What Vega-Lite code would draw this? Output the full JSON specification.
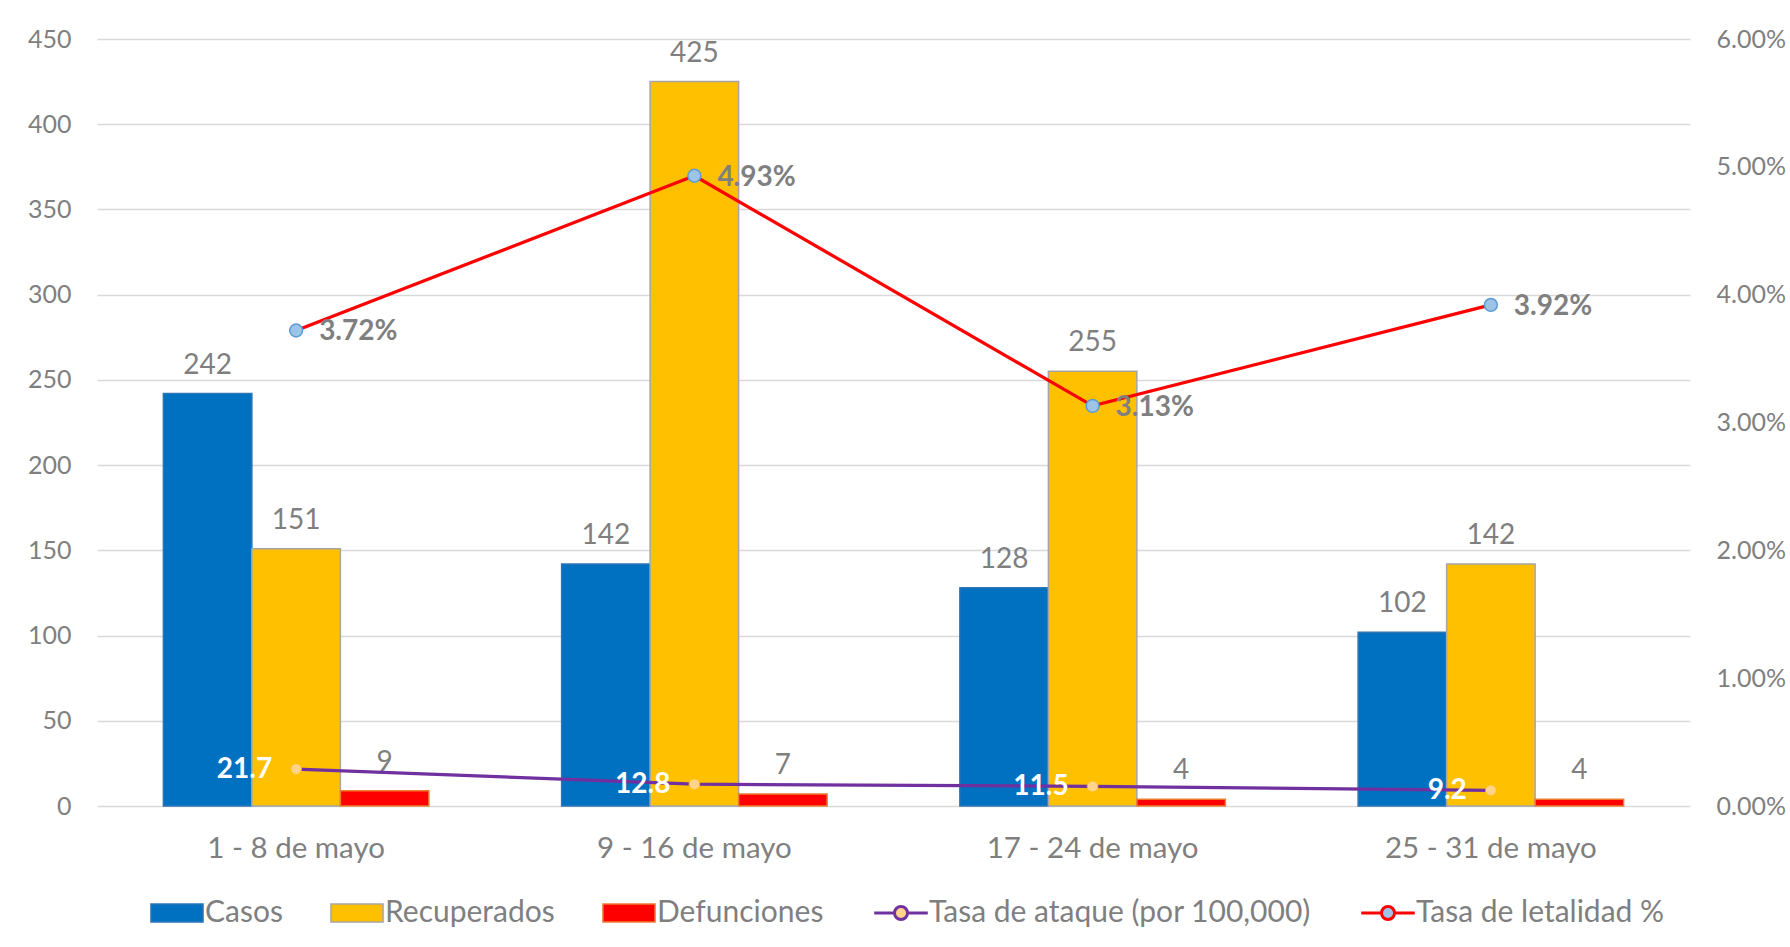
{
  "$schema": "https://vega.github.io/schema/vega-lite/v6.json",
  "width": 1593,
  "height": 767,
  "autosize": {"type": "none"},
  "padding": {"left": 97, "top": 39, "right": 100, "bottom": 141},
  "background": "white",
  "config": {
    "font": "Lato",
    "view": {"stroke": null},
    "axis": {"labelFont": "Lato", "labelColor": "#7F7F7F", "domain": false, "ticks": false, "tickSize": 0, "title": null}
  },
  "datasets": {
    "barras": [
      {"periodo": "1 - 8 de mayo", "serie": "Casos", "valor": 242},
      {"periodo": "1 - 8 de mayo", "serie": "Recuperados", "valor": 151},
      {"periodo": "1 - 8 de mayo", "serie": "Defunciones", "valor": 9},
      {"periodo": "9 - 16 de mayo", "serie": "Casos", "valor": 142},
      {"periodo": "9 - 16 de mayo", "serie": "Recuperados", "valor": 425},
      {"periodo": "9 - 16 de mayo", "serie": "Defunciones", "valor": 7},
      {"periodo": "17 - 24 de mayo", "serie": "Casos", "valor": 128},
      {"periodo": "17 - 24 de mayo", "serie": "Recuperados", "valor": 255},
      {"periodo": "17 - 24 de mayo", "serie": "Defunciones", "valor": 4},
      {"periodo": "25 - 31 de mayo", "serie": "Casos", "valor": 102},
      {"periodo": "25 - 31 de mayo", "serie": "Recuperados", "valor": 142},
      {"periodo": "25 - 31 de mayo", "serie": "Defunciones", "valor": 4}
    ],
    "tasas": [
      {"periodo": "1 - 8 de mayo", "ataque": 21.7, "letalidad": 0.0372},
      {"periodo": "9 - 16 de mayo", "ataque": 12.8, "letalidad": 0.0493},
      {"periodo": "17 - 24 de mayo", "ataque": 11.5, "letalidad": 0.0313},
      {"periodo": "25 - 31 de mayo", "ataque": 9.2, "letalidad": 0.0392}
    ]
  },
  "encoding": {
    "x": {
      "field": "periodo",
      "type": "nominal",
      "sort": ["1 - 8 de mayo", "9 - 16 de mayo", "17 - 24 de mayo", "25 - 31 de mayo"],
      "scale": {"paddingInner": 0.3333, "paddingOuter": 0.16667},
      "axis": {"labelAngle": 0, "labelFontSize": 29.5, "labelLimit": 0, "labelPadding": 28, "labelBaseline": "top", "grid": false}
    }
  },
  "layer": [
    {
      "layer": [
        {
          "data": {"name": "barras"},
          "mark": {"type": "bar", "strokeWidth": 1.5},
          "encoding": {
            "xOffset": {"field": "serie", "type": "nominal", "sort": ["Casos", "Recuperados", "Defunciones"], "scale": {"paddingInner": 0, "paddingOuter": 0}},
            "y": {
              "field": "valor",
              "type": "quantitative",
              "scale": {"domain": [0, 450]},
              "axis": {"orient": "left", "values": [0, 50, 100, 150, 200, 250, 300, 350, 400, 450], "grid": true, "gridColor": "#D9D9D9", "gridWidth": 1.5, "labelFontSize": 25, "labelPadding": 26}
            },
            "color": {
              "field": "serie",
              "type": "nominal",
              "scale": {
                "domain": ["Casos", "Recuperados", "Defunciones", "Tasa de ataque (por 100,000)", "Tasa de letalidad %"],
                "range": ["#0070C0", "#FFC000", "#FF0000", "#FFD38C", "#9DC3E6"]
              },
              "legend": {
                "orient": "none",
                "legendX": 52,
                "legendY": 859,
                "direction": "horizontal",
                "title": null,
                "padding": 0,
                "labelFont": "Lato",
                "labelFontSize": 30,
                "labelColor": "#7F7F7F",
                "labelLimit": 0,
                "labelOffset": 13,
                "symbolOffset": 13,
                "symbolSize": 441,
                "columnPadding": 44,
                "encode": {
                  "symbols": {
                    "update": {
                      "shape": {"signal": "indexof(['Casos','Recuperados','Defunciones'], datum.value) >= 0 ? 'M-2.48,-0.86H2.48V0.86H-2.48Z' : 'M-2.55,0H-0.62M0.62,0H2.55M-0.62,0A0.62,0.62 0 1,1 0.62,0A0.62,0.62 0 1,1 -0.62,0Z'"},
                      "stroke": {"signal": "datum.value == 'Casos' ? '#2E75B6' : datum.value == 'Recuperados' ? '#A5A5A5' : datum.value == 'Defunciones' ? '#ED7D31' : datum.value == 'Tasa de letalidad %' ? '#FF0000' : '#7030A0'"},
                      "strokeWidth": {"signal": "indexof(['Casos','Recuperados','Defunciones'], datum.value) >= 0 ? 1.5 : 3"},
                      "size": {"value": 441},
                      "opacity": {"value": 1}
                    }
                  }
                }
              }
            },
            "stroke": {
              "field": "serie",
              "type": "nominal",
              "scale": {"domain": ["Casos", "Recuperados", "Defunciones"], "range": ["#2E75B6", "#A5A5A5", "#ED7D31"]},
              "legend": null
            }
          }
        },
        {
          "data": {"name": "barras"},
          "mark": {"type": "text", "baseline": "alphabetic", "align": "center", "dy": -20, "fontSize": 28, "font": "Lato", "color": "#7F7F7F"},
          "encoding": {
            "xOffset": {"field": "serie", "type": "nominal", "sort": ["Casos", "Recuperados", "Defunciones"]},
            "y": {"field": "valor", "type": "quantitative"},
            "text": {"field": "valor", "type": "quantitative"}
          }
        },
        {
          "data": {"name": "tasas"},
          "mark": {"type": "line", "stroke": "#7030A0", "strokeWidth": 3.25},
          "encoding": {
            "y": {"field": "ataque", "type": "quantitative"}
          }
        },
        {
          "data": {"name": "tasas"},
          "mark": {"type": "point", "filled": true, "fill": "#FFD38C", "stroke": "#FFC000", "strokeWidth": 0.75, "size": 115, "opacity": 1},
          "encoding": {
            "y": {"field": "ataque", "type": "quantitative"}
          }
        },
        {
          "data": {"name": "tasas"},
          "mark": {"type": "text", "align": "right", "baseline": "middle", "dx": -24, "dy": 1, "fontSize": 28, "fontWeight": "bold", "font": "Lato", "color": "white"},
          "encoding": {
            "y": {"field": "ataque", "type": "quantitative"},
            "text": {"field": "ataque", "type": "quantitative", "format": ".1f"}
          }
        }
      ]
    },
    {
      "layer": [
        {
          "data": {"name": "tasas"},
          "mark": {"type": "line", "stroke": "#FF0000", "strokeWidth": 3.25},
          "encoding": {
            "y": {
              "field": "letalidad",
              "type": "quantitative",
              "scale": {"domain": [0, 0.06]},
              "axis": {"orient": "right", "format": ".2%", "values": [0, 0.01, 0.02, 0.03, 0.04, 0.05, 0.06], "grid": false, "labelFontSize": 25, "labelPadding": 26}
            }
          }
        },
        {
          "data": {"name": "tasas"},
          "mark": {"type": "point", "filled": true, "fill": "#9DC3E6", "stroke": "#5B9BD5", "strokeWidth": 1.5, "size": 165, "opacity": 1},
          "encoding": {
            "y": {"field": "letalidad", "type": "quantitative"}
          }
        },
        {
          "data": {"name": "tasas"},
          "mark": {"type": "text", "align": "left", "baseline": "middle", "dx": 23, "dy": 2, "fontSize": 28, "fontWeight": "bold", "font": "Lato", "color": "#7F7F7F"},
          "encoding": {
            "y": {"field": "letalidad", "type": "quantitative"},
            "text": {"field": "letalidad", "type": "quantitative", "format": ".2%"}
          }
        }
      ]
    }
  ],
  "resolve": {"scale": {"y": "independent"}}
}
